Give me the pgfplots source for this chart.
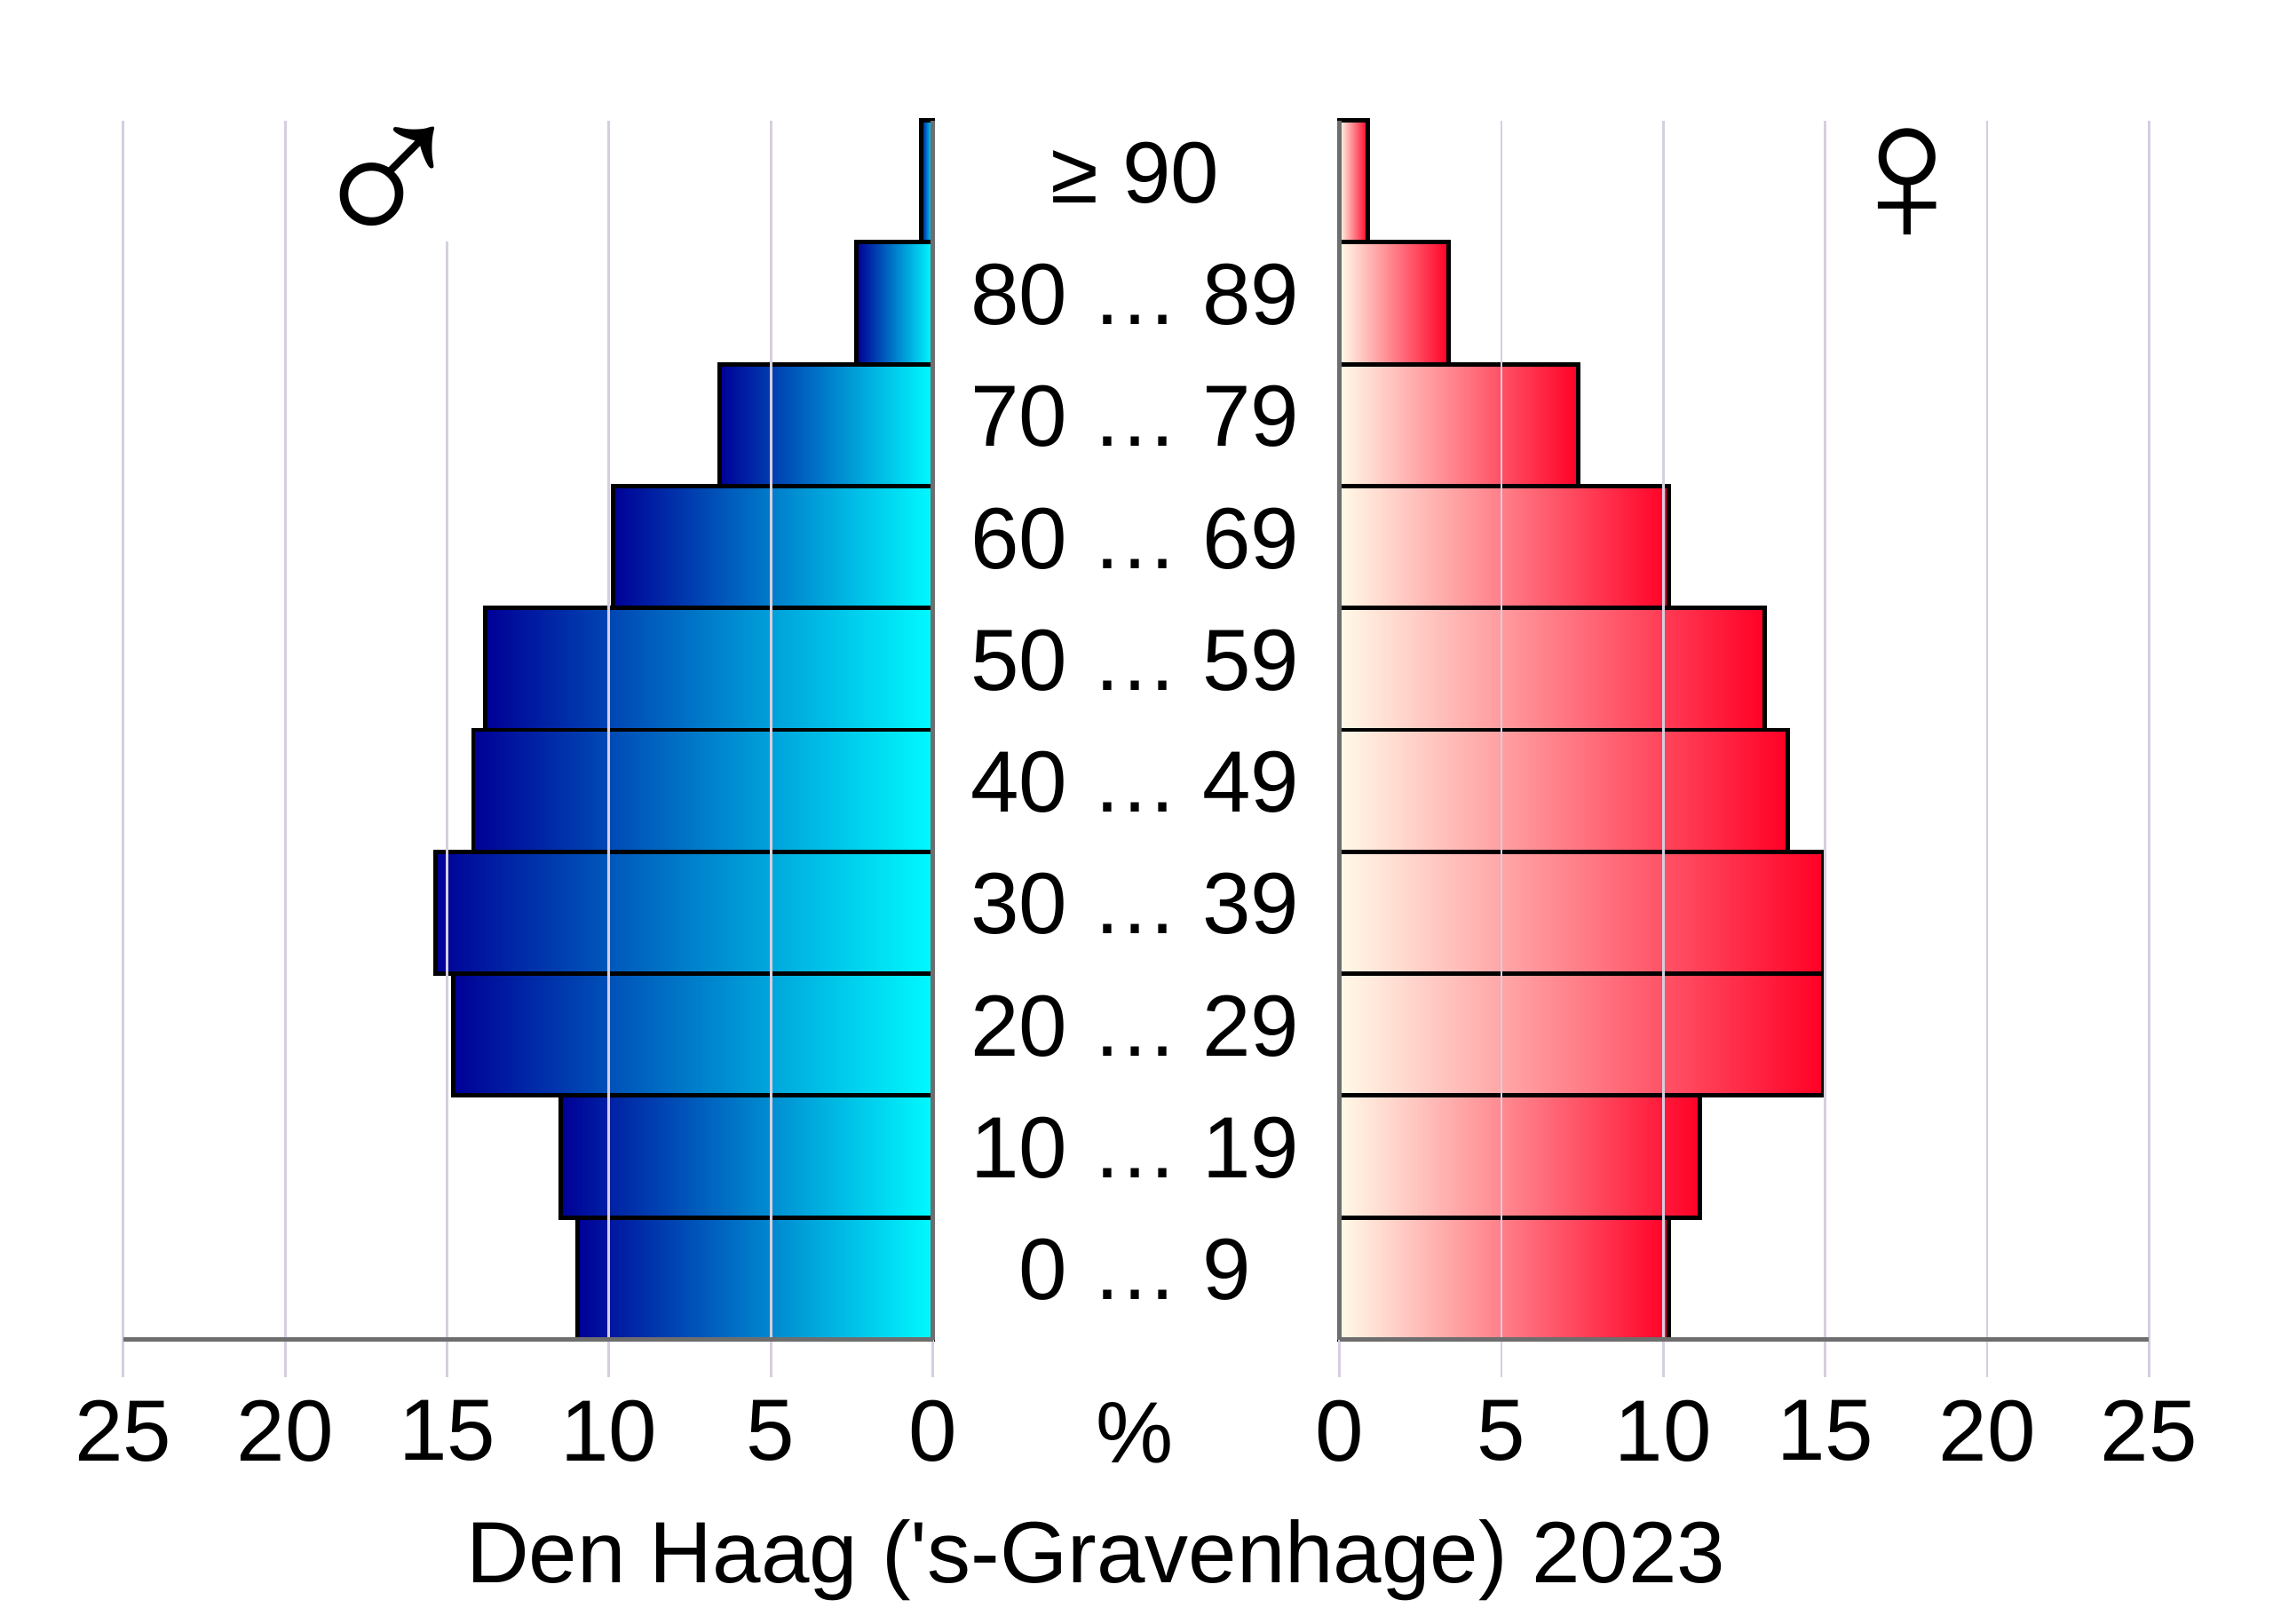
\documentclass[border=0pt]{standalone}
\usepackage{fontspec}
\setmainfont{Liberation Sans}
\usepackage{pgfplots}
\pgfplotsset{compat=1.18}

\definecolor{gridc}{RGB}{214,206,224}
\definecolor{axisc}{RGB}{110,110,110}
\definecolor{mdark}{RGB}{0,0,150}
\definecolor{mlight}{RGB}{0,250,255}
\definecolor{flight}{RGB}{255,250,232}
\definecolor{fdark}{RGB}{255,0,38}

\pgfplotsset{
  pyr/.style={
    scale only axis, width=111.7pt, height=168.2pt,
    xmin=0, xmax=25, ymin=-0.5, ymax=9.5,
    xtick={0,5,...,25},
    xmajorgrids,
    major grid style={gridc, line width=0.35pt},
    axis on top,
    axis x line*=bottom,
    axis line style={axisc, line width=0.6pt, -},
    tick align=outside, major tick length=5.2pt,
    xtick style={gridc, line width=0.35pt},
    ytick style={draw=none},
    tick label style={font=\fontsize{12}{14}\selectfont},
    xticklabel style={yshift=1pt},
    /pgf/number format/assume math mode=true,
    clip=false,
  },
  % one bar per \addplot so that each bar gets its own gradient
  mbar/.style={xbar, bar width=1, bar shift=0pt, draw=black, line width=0.6pt,
    left color=mdark, right color=mlight},
  fbar/.style={xbar, bar width=1, bar shift=0pt, draw=black, line width=0.6pt,
    left color=flight, right color=fdark},
}

\begin{document}
\fontsize{12}{14}\selectfont
\begin{tikzpicture}
\useasboundingbox (0pt,0pt) rectangle (313.6pt,-224pt);

% men (%), age group 0 = 0...9 up to 9 = >= 90
\begin{axis}[pyr, at={(17pt,-184.8pt)}, anchor=south west,
  x dir=reverse, axis y line*=right, ytick=\empty]
\addplot[mbar] coordinates {(10.96,0)};
\addplot[mbar] coordinates {(11.49,1)};
\addplot[mbar] coordinates {(14.80,2)};
\addplot[mbar] coordinates {(15.36,3)};
\addplot[mbar] coordinates {(14.19,4)};
\addplot[mbar] coordinates {(13.83,5)};
\addplot[mbar] coordinates {(9.88,6)};
\addplot[mbar] coordinates {(6.59,7)};
\addplot[mbar] coordinates {(2.35,8)};
\addplot[mbar] coordinates {(0.37,9)};
\end{axis}

% women (%)
\begin{axis}[pyr, at={(184.8pt,-184.8pt)}, anchor=south west,
  axis y line*=left,
  ytick={0,...,9},
  yticklabels={0 … 9,10 … 19,20 … 29,30 … 39,40 … 49,50 … 59,60 … 69,70 … 79,80 … 89,≥ 90},
  yticklabel style={anchor=center, xshift=-23pt, yshift=1.2pt}]
\addplot[fbar] coordinates {(10.16,0)};
\addplot[fbar] coordinates {(11.12,1)};
\addplot[fbar] coordinates {(14.94,2)};
\addplot[fbar] coordinates {(14.94,3)};
\addplot[fbar] coordinates {(13.84,4)};
\addplot[fbar] coordinates {(13.14,5)};
\addplot[fbar] coordinates {(10.16,6)};
\addplot[fbar] coordinates {(7.37,7)};
\addplot[fbar] coordinates {(3.38,8)};
\addplot[fbar] coordinates {(0.87,9)};
\end{axis}

\fill[white] (59.6pt,-16pt) rectangle (63.6pt,-33.3pt);
\node[font=\fontsize{31}{33}\selectfont] at (53.4pt,-26.2pt) {♂};
\node[font=\fontsize{28}{30}\selectfont] at (263.2pt,-25.6pt) {♀};

\node[anchor=base] at (156.6pt,-201.8pt) {\%};
\node[anchor=base] at (151.2pt,-218.4pt) {Den Haag (\textquotesingle s-Gravenhage) 2023};
\end{tikzpicture}
\end{document}
